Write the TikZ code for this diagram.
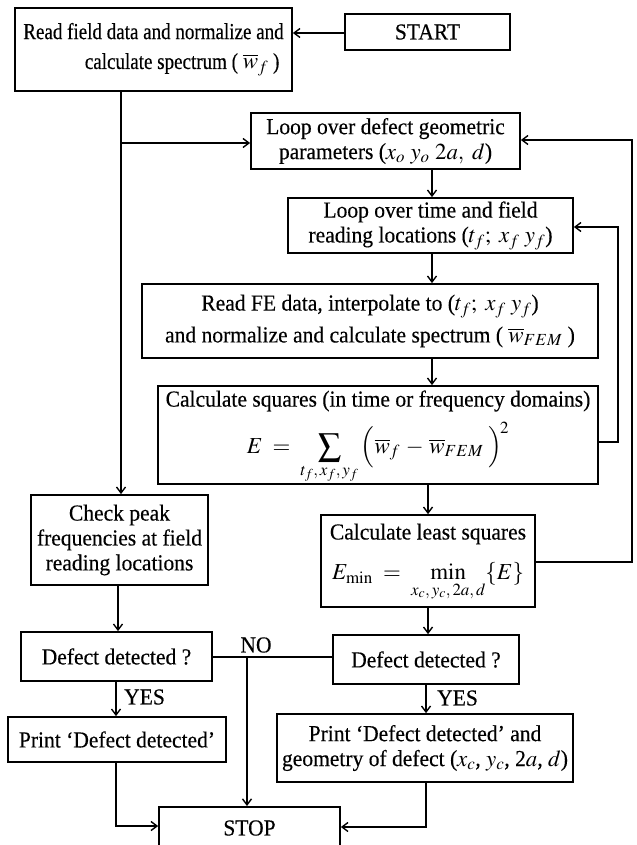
\documentclass[tikz,border=0pt]{standalone}
\usepackage{mathptmx}
\usepackage[no-math]{fontspec}
\setmainfont{Liberation Serif}[FakeStretch=0.94,FakeBold=0.3]
\newfontfamily\condfont{Liberation Serif}[FakeStretch=0.83,FakeBold=0.3]
\usetikzlibrary{arrows.meta}
\newcommand{\mainsz}{\fontsize{23}{25}\selectfont}
\tikzset{
  box/.style={draw, line width=1.7pt, inner sep=0pt, align=center, font=\mainsz},
  ln/.style={line width=1.7pt},
  arr/.style={line width=1.7pt, -{Straight Barb[length=6bp,width=9bp,line width=1.4pt]}},
  lbl/.style={inner sep=0pt, font=\mainsz}
}
\begin{document}
\begin{tikzpicture}[x=1bp,y=-1bp]
\fill[white] (0,0) rectangle (637,845);
\path[use as bounding box] (0,0) rectangle (637,845);
% boxes
\node[box, minimum width=277bp, minimum height=83bp, font=\condfont\fontsize{23}{30}\selectfont] (read) at (153.5,49.5)
  {Read field data and normalize and\\ \hspace*{2.5em}calculate spectrum ( $\overline{w}_{f}$ )};
\node[box, minimum width=165bp, minimum height=36bp] (start) at (427.5,32) {START};
\node[box, minimum width=269bp, minimum height=56bp] (loopd) at (385.5,141)
  {Loop over defect geometric\\ parameters ($x_o\ y_o\ 2a,\ d$)};
\node[box, minimum width=285bp, minimum height=55bp] (loopt) at (430.5,225.5)
  {Loop over time and field\\ reading locations ($t_f;\ x_f\ y_f$)};
\node[box, minimum width=456bp, minimum height=74bp, font=\fontsize{23}{32}\selectfont] (readfe) at (370,321)
  {Read FE data, interpolate to ($t_f;\ x_f\ y_f$)\\ and normalize and calculate spectrum ( $\overline{w}_{FEM}$ )};
\node[box, minimum width=440bp, minimum height=98bp] (calc) at (378,435) {};
\node[lbl] (calct) at (378,401) {Calculate squares (in time or frequency domains)};
\node[lbl] (calcf) at (378,453)
  {$\displaystyle E \;=\; \sum_{t_f,\,x_f,\,y_f}\Big(\overline{w}_f \,-\, \overline{w}_{FEM}\;\Big)^{\!2}$};
\node[box, minimum width=214bp, minimum height=92bp] (lsq) at (428,561) {};
\node[lbl] (lsqt) at (428,534) {Calculate least squares};
\node[lbl] (lsqf) at (428,582)
  {$\displaystyle E_{\min} \;=\; \min_{x_c,\,y_c,\,2a,\,d}\{E\}$};
\node[box, minimum width=177bp, minimum height=90bp] (check) at (119.5,540)
  {Check peak\\ frequencies at field\\ reading locations};
\node[box, minimum width=191bp, minimum height=49bp] (defl) at (116.5,656.5) {Defect detected ?};
\node[box, minimum width=186bp, minimum height=49bp] (defr) at (426,659.5) {Defect detected ?};
\node[box, minimum width=218bp, minimum height=45bp] (printl) at (117,739.5) {Print `Defect detected'};
\node[box, minimum width=296bp, minimum height=68bp] (printr) at (425,748)
  {Print `Defect detected' and\\ geometry of defect ($x_c$, $y_c$, 2$a$, $d$)};
\node[box, minimum width=181bp, minimum height=70bp, anchor=north] (stop) at (249.5,806) {};
\node[lbl] (stoptxt) at (249.5,828) {STOP};
% labels
\node[lbl] (no) at (256,645) {NO};
\node[lbl, anchor=west] (yesl) at (124,697) {YES};
\node[lbl, anchor=west] (yesr) at (437,698) {YES};
% coordinates
\coordinate (br) at (121,143);
\coordinate (nojoin) at (247,657);
\coordinate (fb1) at (618,442);
\coordinate (fb2) at (632,562);
% connectors
\draw[arr] (start.west |- 0,33) -- (read.east |- 0,33);
\draw[arr] (read.south -| br) -- (check.north -| br);
\draw[arr] (br) -- (br -| loopd.west);
\draw[arr] (loopd.south -| 432,0) -- (loopt.north -| 432,0);
\draw[arr] (loopt.south -| 432,0) -- (readfe.north -| 432,0);
\draw[arr] (readfe.south -| 432,0) -- (calc.north -| 432,0);
\draw[arr] (calc.east |- fb1) -- (fb1) -- (fb1 |- 0,227) -- (loopt.east |- 0,227);
\draw[arr] (calc.south -| lsq.north) -- (lsq.north);
\draw[arr] (lsq.east |- fb2) -- (fb2) -- (fb2 |- 0,140) -- (loopd.east |- 0,140);
\draw[arr] (check.south -| 118,0) -- (defl.north -| 118,0);
\draw[arr] (lsq.south) -- (defr.north -| lsq.south);
\draw[ln] (defl.east |- nojoin) -- (defr.west |- nojoin);
\draw[arr] (nojoin) -- (nojoin |- stop.north);
\draw[arr] (defl.south -| 116,0) -- (printl.north -| 116,0);
\draw[arr] (defr.south) -- (printr.north -| defr.south);
\draw[arr] (printl.south -| 116,0) -- (116,826) -- (stop.west |- 0,826);
\draw[arr] (printr.south -| 426,0) -- (426,827) -- (stop.east |- 0,827);
\end{tikzpicture}
\end{document}
